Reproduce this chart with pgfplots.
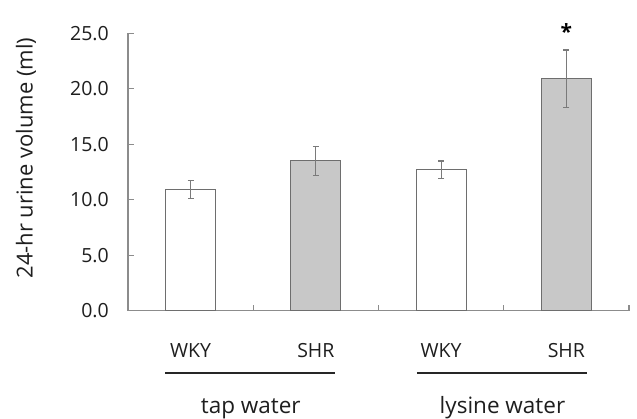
\documentclass[border=0pt]{standalone}
\usepackage{pgfplots}
\pgfplotsset{compat=1.18}
\usepackage{pgfplotstable}
\usepackage{fontspec}
\setmainfont{Open Sans}

\definecolor{barfill}{HTML}{C8C8C8}
\definecolor{baredge}{HTML}{6E6E6E}
\definecolor{axisgray}{HTML}{8C8C8C}
\definecolor{errgray}{HTML}{7A7A7A}
\definecolor{txt}{HTML}{1E1E1E}

% mean 24-hr urine volume (ml) and error, by strain
\pgfplotstableread{
x y err
0 10.9 0.8
2 12.7 0.8
}\wky
\pgfplotstableread{
x y err
1 13.5 1.3
3 20.9 2.6
}\shr

\begin{document}
\begin{tikzpicture}
\path[use as bounding box] (-128bp,-108.3bp) rectangle (509bp,310.7bp);
\begin{axis}[
  at={(0,0)}, anchor=south west,
  scale only axis, width=501bp, height=277.4bp,
  xmin=-0.5, xmax=3.5, ymin=0, ymax=25,
  clip=false,
  axis line style={axisgray, line width=1.2bp},
  axis x line*=bottom, axis y line*=left,
  xtick={-0.5,0.5,1.5,2.5,3.5},
  xticklabels={WKY,SHR,WKY,SHR,},
  ytick={0,5,...,25},
  tick align=inside,
  major tick length=6bp,
  tick style={axisgray, line width=1.2bp},
  /pgf/number format/.cd, fixed, fixed zerofill, precision=1, assume math mode=true,
  /pgfplots/.cd,
  yticklabel style={font=\fontsize{19.5bp}{23bp}\selectfont, text=txt, anchor=east, inner sep=0pt, xshift=-19bp},
  xticklabel style={font=\fontsize{19.5bp}{23bp}\selectfont, text=txt, anchor=base, inner sep=0pt, xshift=62.6bp, yshift=-46.6bp},
]
\addplot[ybar, bar width=50bp, bar shift=0pt, fill=white, draw=baredge, line width=1bp,
  error bars/.cd, y dir=both, y explicit,
  error bar style={errgray, line width=1.2bp},
  error mark options={rotate=90, mark size=3bp, errgray, line width=1.2bp}]
  table[x=x, y=y, y error=err] {\wky};
\addplot[ybar, bar width=50bp, bar shift=0pt, fill=barfill, draw=baredge, line width=1bp,
  error bars/.cd, y dir=both, y explicit,
  error bar style={errgray, line width=1.2bp},
  error mark options={rotate=90, mark size=3bp, errgray, line width=1.2bp}]
  table[x=x, y=y, y error=err] {\shr};

% significance marker
\node[anchor=north, inner sep=0pt, font=\fontsize{21bp}{24bp}\selectfont\bfseries] at (axis cs:3,25.9) {*};

% treatment groups
\draw[line width=1.3bp, black!85] (axis cs:-0.204,-5.61) -- (axis cs:1.153,-5.61);
\draw[line width=1.3bp, black!85] (axis cs:1.807,-5.61) -- (axis cs:3.165,-5.61);
\node[anchor=base, inner sep=0pt, text=txt, font=\fontsize{22.5bp}{27bp}\selectfont] at (axis cs:0.48,-9.25) {tap water};
\node[anchor=base, inner sep=0pt, text=txt, font=\fontsize{22.5bp}{27bp}\selectfont] at (axis cs:2.49,-9.25) {lysine water};

% axis title
\node[rotate=90, inner sep=0pt, text=txt, font=\fontsize{22bp}{26bp}\selectfont] at (axis cs:-1.314,13.76) {24-hr urine volume (ml)};
\end{axis}
\end{tikzpicture}
\end{document}
